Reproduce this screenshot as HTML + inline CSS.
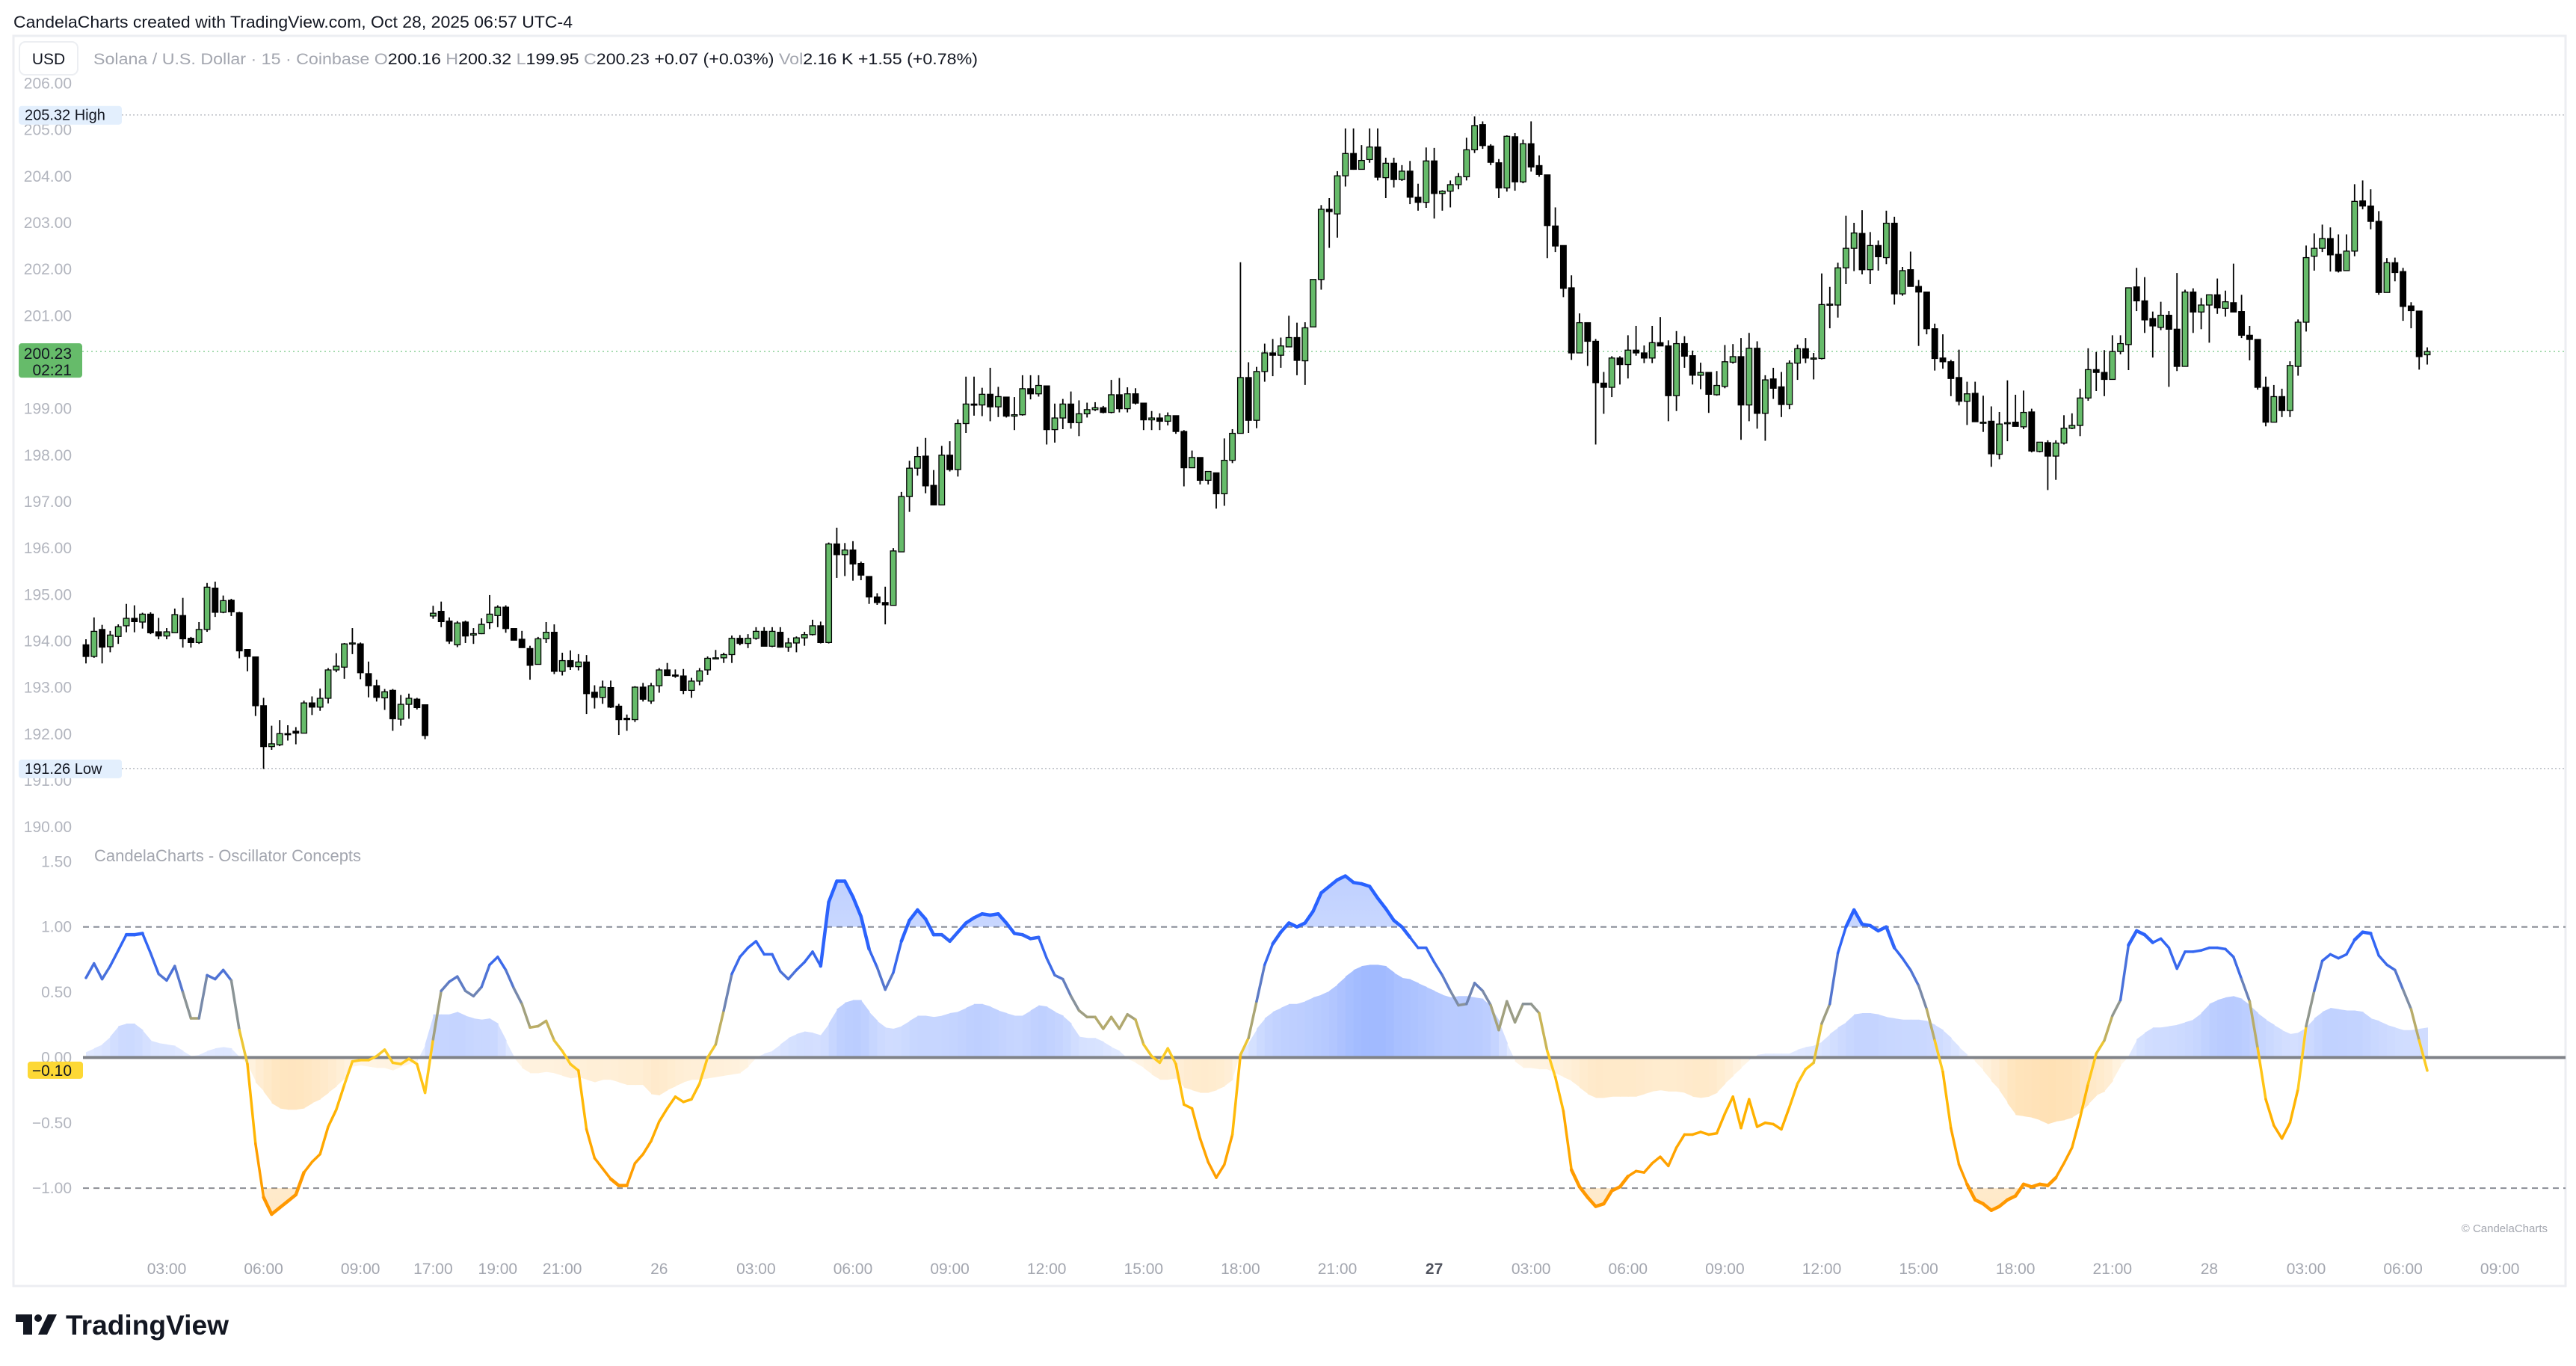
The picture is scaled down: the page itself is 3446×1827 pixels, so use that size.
<!DOCTYPE html>
<html><head><meta charset="utf-8"><title>SOL/USD 15m – Oscillator Concepts</title>
<style>
html,body{margin:0;padding:0;background:#fff;}
svg{display:block;}
text{font-family:"Liberation Sans",sans-serif;}
</style></head>
<body>
<svg id="chart" xmlns="http://www.w3.org/2000/svg" width="3446" height="1827" viewBox="0 0 3446 1827">
<defs>
<linearGradient id="gUp" x1="0" y1="0" x2="0" y2="1"><stop offset="0" stop-color="#2962ff" stop-opacity="0.3"/><stop offset="1" stop-color="#2962ff" stop-opacity="0"/></linearGradient>
<linearGradient id="gDn" x1="0" y1="1" x2="0" y2="0"><stop offset="0" stop-color="#ff9800" stop-opacity="0.22"/><stop offset="1" stop-color="#ff9800" stop-opacity="0"/></linearGradient>
<clipPath id="clipUp"><rect x="100" y="1100" width="3340" height="139.7"/></clipPath>
<clipPath id="clipDn"><rect x="100" y="1589.1" width="3340" height="120"/></clipPath>
</defs>
<rect width="3446" height="1827" fill="#fff"/>
<text x="18" y="37" font-size="22" fill="#131722" textLength="748" lengthAdjust="spacingAndGlyphs">CandelaCharts created with TradingView.com, Oct 28, 2025 06:57 UTC-4</text>
<rect x="18" y="48" width="3414" height="1672" fill="none" stroke="#eceef2" stroke-width="3"/>
<rect x="26" y="56" width="78" height="44" rx="8" fill="#fff" stroke="#eceef2" stroke-width="2"/>
<text x="65" y="86" font-size="21" fill="#131722" text-anchor="middle">USD</text>
<text x="125" y="86" font-size="21" fill="#a3a6af" textLength="1183" lengthAdjust="spacingAndGlyphs">Solana / U.S. Dollar · 15 · Coinbase  O<tspan fill="#131722">200.16</tspan>  H<tspan fill="#131722">200.32</tspan>  L<tspan fill="#131722">199.95</tspan>  C<tspan fill="#131722">200.23  +0.07 (+0.03%)</tspan>  Vol<tspan fill="#131722">2.16 K  +1.55 (+0.78%)</tspan></text>
<text x="126" y="1152" font-size="22" fill="#a3a6af">CandelaCharts - Oscillator Concepts</text>
<g id="priceAxis"></g>
<g id="oscAxis"></g>
<g id="oscArea"></g>
<g id="refLines"></g>
<g id="candles"></g>
<g id="oscLine"></g>
<g id="timeAxis"></g>
<g id="labels"></g>
<text x="3408" y="1648" font-size="15" fill="#a3a6af" text-anchor="end" font-family="Liberation Mono, monospace">© CandelaCharts</text>
<g>
<rect x="21" y="1758" width="22" height="10" fill="#131722"/>
<rect x="31" y="1758" width="12" height="27" fill="#131722"/>
<circle cx="51" cy="1763" r="5" fill="#131722"/>
<polygon points="64,1758 76,1758 63,1785 51,1785" fill="#131722"/>
<text x="88" y="1785" font-size="37" font-weight="bold" fill="#131722" textLength="218" lengthAdjust="spacingAndGlyphs">TradingView</text>
</g>
</svg>
<script>
const opens=[193.92,193.67,194.25,193.88,194.10,194.33,194.49,194.41,194.58,194.20,
194.11,194.18,194.55,194.06,193.97,194.25,195.14,194.62,194.88,194.61,
193.82,193.66,192.61,191.73,191.77,192.01,192.06,192.02,192.67,192.58,
192.77,193.38,193.44,193.96,193.94,193.30,193.04,192.78,192.94,192.32,
192.64,192.75,192.63,194.54,194.64,194.43,193.92,194.41,194.13,194.16,
194.40,194.55,194.73,194.27,194.04,193.84,193.50,194.05,194.19,193.35,
193.58,193.45,193.55,192.90,192.79,193.00,192.60,192.34,192.31,193.01,
192.71,193.04,193.38,193.27,193.25,192.94,193.14,193.38,193.64,193.64,
193.71,194.06,193.95,194.06,194.21,193.89,194.19,193.87,193.96,194.07,
194.14,194.33,193.97,196.09,195.86,195.96,195.67,195.39,194.95,194.83,
194.77,195.92,197.11,197.72,197.98,197.35,196.93,198.00,197.69,198.68,
199.10,199.08,199.31,199.04,199.25,198.84,198.87,199.43,199.32,199.49,
198.55,198.80,199.10,198.70,198.89,198.98,199.02,198.92,199.30,199.00,
199.32,199.12,198.76,198.80,198.73,198.85,198.51,197.73,197.95,197.46,
197.62,197.17,197.89,198.47,199.67,198.75,199.80,200.20,200.15,200.33,
200.53,200.03,200.76,201.78,203.29,203.19,204.01,204.49,204.15,204.36,
204.63,203.97,204.28,203.93,204.11,203.55,203.44,204.33,203.63,203.68,
203.82,203.99,204.57,205.11,204.65,204.29,203.75,204.85,203.88,204.70,
204.23,204.03,202.93,202.51,201.60,200.20,200.85,200.45,199.55,199.46,
200.09,199.95,200.26,200.20,200.09,200.42,200.35,199.28,200.40,200.14,
199.72,199.78,199.30,199.48,200.00,200.12,199.08,200.30,198.90,199.64,
199.47,199.09,199.98,200.29,200.09,200.08,201.25,201.23,202.03,202.45,
202.77,201.99,202.51,202.25,202.99,201.47,201.99,201.63,201.51,200.72,
200.09,200.01,199.67,199.16,199.33,198.71,198.73,198.02,198.70,198.71,
198.61,198.93,198.08,198.27,197.98,198.26,198.58,198.64,199.23,199.84,
199.78,199.63,200.23,200.38,201.62,201.32,200.94,200.75,201.01,200.71,
199.91,201.51,201.08,201.23,201.45,201.16,201.28,201.09,200.58,200.49,
199.46,198.71,199.26,198.96,199.91,200.86,202.28,202.45,202.66,202.32,
201.97,202.39,203.47,203.36,203.03,201.50,202.14,201.95,201.21,201.10,200.16];
const closes=[193.67,194.21,193.87,194.13,194.31,194.49,194.42,194.58,194.18,194.11,
194.20,194.57,194.05,193.97,194.25,195.16,194.62,194.87,194.63,193.79,
193.67,192.61,191.73,191.79,192.01,191.99,192.02,192.67,192.58,192.77,
193.38,193.46,193.94,193.96,193.32,193.04,192.79,192.91,192.33,192.64,
192.77,192.57,191.97,194.60,194.42,194.00,194.39,194.11,194.16,194.36,
194.58,194.73,194.27,194.02,193.86,193.48,194.05,194.19,193.35,193.58,
193.45,193.55,192.87,192.79,193.01,192.58,192.31,192.31,193.01,192.75,
193.04,193.38,193.26,193.26,192.94,193.14,193.36,193.63,193.64,193.71,
194.06,193.95,194.06,194.21,193.89,194.21,193.87,193.96,194.07,194.14,
194.33,193.97,196.09,195.86,195.96,195.66,195.42,194.95,194.83,194.78,
195.94,197.11,197.72,197.97,197.34,196.93,198.00,197.69,198.68,199.10,
199.08,199.31,199.04,199.26,198.84,198.87,199.43,199.32,199.50,198.55,
198.80,199.10,198.70,198.89,198.98,199.02,198.92,199.30,199.00,199.32,
199.12,198.76,198.80,198.73,198.85,198.51,197.73,197.95,197.46,197.65,
197.17,197.89,198.47,199.67,198.75,199.80,200.20,200.15,200.35,200.53,
200.04,200.74,201.78,203.29,203.24,204.01,204.49,204.15,204.34,204.63,
203.98,204.28,203.93,204.11,203.55,203.44,204.33,203.63,203.68,203.82,
203.99,204.57,205.09,204.66,204.30,203.75,204.86,203.88,204.70,204.20,
204.04,202.94,202.50,201.59,200.20,200.85,200.45,199.56,199.46,200.09,
199.95,200.26,200.20,200.09,200.42,200.35,199.28,200.40,200.13,199.72,
199.78,199.31,199.50,200.01,200.12,199.08,200.30,198.90,199.62,199.44,
199.09,199.98,200.29,200.09,200.09,201.24,201.25,202.03,202.45,202.78,
201.99,202.51,202.27,202.99,201.47,201.97,201.63,201.51,200.72,200.08,
200.01,199.65,199.16,199.32,198.72,198.71,198.03,198.67,198.70,198.62,
198.92,198.09,198.28,197.98,198.26,198.58,198.64,199.23,199.84,199.78,
199.63,200.23,200.40,201.60,201.32,200.91,200.78,201.01,200.71,199.91,
201.51,201.08,201.23,201.45,201.17,201.30,201.08,200.58,200.49,199.46,
198.71,199.26,198.96,199.93,200.86,202.25,202.45,202.66,202.31,201.96,
202.39,203.46,203.36,203.03,201.50,202.14,201.93,201.20,201.11,200.12,200.23];
const highs=[194.04,194.51,194.35,194.22,194.36,194.80,194.77,194.61,194.62,194.50,
194.28,194.70,194.93,194.09,194.41,195.25,195.28,194.98,194.91,194.63,
193.82,193.66,192.78,192.18,192.30,192.19,192.15,192.72,192.81,192.98,
193.42,193.74,193.96,194.28,193.97,193.56,193.17,192.97,192.97,192.84,
192.87,192.78,192.63,194.76,194.85,194.51,194.43,194.44,194.28,194.49,
194.99,194.77,194.77,194.27,194.22,193.90,194.09,194.41,194.36,193.75,
193.80,193.72,193.70,193.05,193.15,193.15,192.65,192.42,193.03,193.10,
193.10,193.42,193.53,193.39,193.40,193.21,193.42,193.67,193.81,193.75,
194.12,194.13,194.15,194.30,194.30,194.30,194.30,194.07,194.10,194.20,
194.46,194.42,196.12,196.44,196.11,196.15,195.71,195.39,195.03,195.17,
196.00,197.21,197.88,198.18,198.37,197.68,198.20,198.30,198.77,199.69,
199.69,199.45,199.88,199.47,199.25,199.25,199.72,199.72,199.72,199.49,
199.11,199.21,199.37,199.18,199.13,199.14,199.06,199.62,199.66,199.46,
199.44,199.12,198.95,198.90,198.92,198.85,198.54,198.10,197.95,197.65,
197.62,198.36,198.56,202.15,200.00,199.90,200.40,200.50,200.53,201.00,
200.85,200.86,201.78,203.38,203.53,204.11,205.03,205.03,204.67,205.03,
205.03,204.40,204.40,204.24,204.33,203.84,204.62,204.61,203.70,203.91,
204.07,204.83,205.29,205.18,204.69,204.37,204.88,204.93,204.79,205.18,
204.45,204.03,203.33,202.51,201.87,201.05,200.85,200.50,199.79,200.13,
200.13,200.58,200.78,200.36,200.78,200.97,200.47,200.67,200.56,200.25,
199.99,199.78,199.81,200.37,200.39,200.52,200.63,200.45,199.72,199.88,
199.79,200.04,200.38,200.52,200.20,201.91,201.62,202.14,203.15,203.00,
203.27,202.80,202.62,203.26,203.13,202.05,202.38,201.77,201.51,200.83,
200.60,200.05,200.27,199.58,199.58,199.28,199.05,198.93,199.61,199.30,
199.39,199.00,198.28,198.32,198.32,198.86,198.90,199.43,200.30,200.22,
200.26,200.58,200.58,201.60,202.03,201.83,201.09,201.30,201.10,201.92,
201.56,201.59,201.38,201.45,201.80,201.54,202.12,201.45,200.78,200.49,
199.69,199.51,199.43,200.02,200.92,202.51,202.77,202.96,202.90,202.75,
202.75,203.83,203.91,203.72,203.25,202.24,202.25,202.03,201.29,201.10,200.32];
const lows=[193.52,193.64,193.52,193.76,193.94,194.19,194.19,194.27,194.15,194.04,
194.04,194.18,193.86,193.86,193.94,194.20,194.52,194.60,194.54,193.63,
193.35,192.39,191.25,191.66,191.74,191.86,191.78,192.02,192.41,192.50,
192.66,193.33,193.19,193.72,193.18,192.79,192.70,192.52,192.07,192.18,
192.33,192.53,191.89,194.48,194.30,193.94,193.87,193.96,193.94,194.15,
194.26,194.30,194.18,194.02,193.86,193.17,193.50,193.96,193.29,193.26,
193.38,193.37,192.43,192.55,192.65,192.56,191.98,192.07,192.26,192.70,
192.65,192.89,193.26,193.21,192.86,192.78,193.05,193.27,193.63,193.53,
193.53,193.91,193.85,194.03,193.89,193.87,193.86,193.77,193.76,193.90,
194.12,193.95,193.95,195.36,195.40,195.30,195.31,194.80,194.78,194.36,
194.77,195.92,196.78,197.56,197.18,196.92,196.93,197.65,197.54,198.48,
198.85,198.84,198.73,198.82,198.81,198.54,198.85,199.20,199.26,198.23,
198.27,198.56,198.57,198.41,198.81,198.95,198.90,198.90,198.92,198.92,
199.09,198.54,198.54,198.54,198.64,198.46,197.33,197.73,197.37,197.37,
196.85,196.91,197.83,198.47,198.48,198.58,199.58,199.70,199.88,200.33,
199.72,199.51,200.77,201.56,202.46,202.68,203.78,204.14,204.15,204.29,
203.91,203.53,203.76,203.90,203.40,203.26,203.32,203.09,203.26,203.33,
203.72,203.91,204.50,204.59,204.24,203.53,203.67,203.69,203.85,204.10,
203.99,202.24,202.37,201.40,200.05,200.20,199.92,198.23,198.89,199.25,
199.52,199.65,200.14,199.98,199.98,200.35,198.73,198.95,199.88,199.52,
199.42,198.91,199.28,199.44,199.97,198.33,198.73,198.57,198.31,199.21,
198.82,198.99,199.62,199.98,199.63,200.06,200.73,200.96,201.68,201.96,
201.89,201.68,201.97,202.11,201.24,201.43,201.63,200.35,200.60,199.82,
199.86,199.27,199.07,198.65,198.72,198.50,197.75,197.91,198.30,198.62,
198.56,198.06,198.06,197.25,197.47,198.23,198.56,198.41,199.17,199.38,
199.27,199.63,200.17,199.83,201.10,200.63,200.10,200.69,199.47,199.81,
199.91,200.63,200.71,200.42,201.04,200.98,201.08,200.52,200.04,199.41,
198.62,198.71,198.82,198.82,199.71,200.66,201.97,202.37,201.95,201.93,
201.97,202.28,203.29,202.86,201.45,201.50,201.74,200.89,200.73,199.84,199.95];
const oscValues=[0.61,0.72,0.60,0.70,0.82,0.94,0.94,0.95,0.80,0.64,
0.59,0.70,0.50,0.30,0.30,0.63,0.60,0.67,0.59,0.21,
-0.05,-0.66,-1.07,-1.20,-1.15,-1.10,-1.05,-0.88,-0.80,-0.74,
-0.53,-0.40,-0.21,-0.03,-0.02,-0.02,0.01,0.06,-0.04,-0.05,
-0.01,-0.05,-0.27,0.14,0.51,0.58,0.62,0.51,0.47,0.54,
0.71,0.77,0.67,0.53,0.41,0.23,0.24,0.28,0.13,0.05,
-0.05,-0.10,-0.55,-0.77,-0.85,-0.93,-0.98,-0.98,-0.81,-0.74,
-0.64,-0.49,-0.39,-0.30,-0.34,-0.32,-0.20,0.00,0.10,0.36,
0.64,0.77,0.84,0.89,0.79,0.79,0.66,0.60,0.67,0.73,
0.81,0.70,1.19,1.35,1.35,1.23,1.08,0.83,0.69,0.52,
0.65,0.89,1.05,1.13,1.06,0.94,0.94,0.89,0.96,1.03,
1.07,1.10,1.09,1.10,1.03,0.95,0.94,0.91,0.92,0.76,
0.63,0.60,0.47,0.36,0.31,0.31,0.22,0.31,0.22,0.33,
0.29,0.10,0.01,-0.04,0.07,-0.05,-0.36,-0.39,-0.62,-0.80,
-0.92,-0.82,-0.59,0.02,0.15,0.43,0.71,0.87,0.96,1.03,
1.00,1.03,1.12,1.26,1.31,1.36,1.39,1.34,1.33,1.31,
1.22,1.14,1.05,1.00,0.92,0.84,0.84,0.73,0.63,0.51,
0.40,0.41,0.57,0.51,0.40,0.21,0.43,0.27,0.41,0.41,
0.34,0.05,-0.15,-0.41,-0.86,-0.99,-1.07,-1.14,-1.12,-1.02,
-0.99,-0.91,-0.87,-0.88,-0.81,-0.76,-0.83,-0.69,-0.59,-0.59,
-0.57,-0.59,-0.58,-0.43,-0.30,-0.54,-0.32,-0.53,-0.50,-0.51,
-0.55,-0.38,-0.20,-0.09,-0.04,0.26,0.41,0.80,1.00,1.13,
1.02,1.01,0.97,1.00,0.84,0.76,0.67,0.55,0.37,0.13,
-0.11,-0.54,-0.82,-0.97,-1.09,-1.12,-1.17,-1.14,-1.09,-1.06,
-0.97,-0.99,-0.97,-0.98,-0.92,-0.81,-0.69,-0.46,-0.20,0.03,
0.13,0.32,0.44,0.86,0.97,0.94,0.88,0.91,0.84,0.68,
0.81,0.81,0.82,0.84,0.84,0.83,0.77,0.60,0.43,0.07,
-0.32,-0.52,-0.62,-0.50,-0.24,0.24,0.51,0.74,0.79,0.76,
0.79,0.90,0.96,0.95,0.78,0.71,0.67,0.52,0.37,0.13,-0.10];
const areaValues=[0.04,0.07,0.10,0.16,0.24,0.26,0.26,0.21,0.13,0.11,
0.10,0.09,0.05,0.01,0.02,0.05,0.07,0.08,0.07,0.00,
-0.05,-0.19,-0.26,-0.35,-0.39,-0.40,-0.40,-0.39,-0.35,-0.32,
-0.27,-0.22,-0.16,-0.07,-0.06,-0.07,-0.08,-0.08,-0.10,-0.07,
-0.05,-0.03,0.10,0.33,0.33,0.33,0.35,0.32,0.30,0.29,
0.30,0.26,0.13,0.00,-0.08,-0.12,-0.12,-0.11,-0.12,-0.14,
-0.16,-0.15,-0.17,-0.19,-0.17,-0.17,-0.19,-0.21,-0.21,-0.21,
-0.28,-0.29,-0.25,-0.22,-0.19,-0.17,-0.17,-0.16,-0.15,-0.14,
-0.13,-0.12,-0.07,0.00,0.03,0.05,0.10,0.15,0.18,0.20,
0.19,0.17,0.26,0.37,0.42,0.44,0.44,0.35,0.28,0.23,
0.22,0.24,0.28,0.32,0.32,0.31,0.32,0.34,0.35,0.38,
0.41,0.41,0.39,0.36,0.34,0.32,0.32,0.36,0.40,0.39,
0.35,0.32,0.26,0.16,0.15,0.15,0.12,0.08,0.05,-0.01,
-0.04,-0.08,-0.13,-0.17,-0.17,-0.16,-0.23,-0.25,-0.27,-0.27,
-0.25,-0.22,-0.17,0.05,0.11,0.22,0.30,0.35,0.38,0.41,
0.41,0.43,0.46,0.48,0.51,0.56,0.62,0.67,0.70,0.71,
0.71,0.70,0.65,0.61,0.60,0.57,0.54,0.51,0.48,0.46,
0.47,0.47,0.46,0.45,0.39,0.28,0.11,-0.03,-0.08,-0.08,
-0.09,-0.09,-0.12,-0.15,-0.18,-0.23,-0.28,-0.31,-0.31,-0.30,
-0.30,-0.30,-0.30,-0.28,-0.26,-0.25,-0.26,-0.26,-0.27,-0.30,
-0.31,-0.30,-0.27,-0.20,-0.14,-0.08,-0.02,0.02,0.03,0.03,
0.03,0.03,0.06,0.08,0.09,0.12,0.18,0.23,0.27,0.33,
0.34,0.34,0.33,0.31,0.30,0.29,0.29,0.29,0.28,0.25,
0.21,0.15,0.08,0.02,-0.03,-0.10,-0.18,-0.25,-0.35,-0.44,
-0.45,-0.46,-0.48,-0.51,-0.49,-0.48,-0.46,-0.42,-0.36,-0.29,
-0.26,-0.18,-0.06,0.01,0.14,0.19,0.23,0.23,0.24,0.25,
0.27,0.29,0.34,0.41,0.44,0.46,0.47,0.45,0.40,0.34,
0.29,0.25,0.21,0.18,0.19,0.23,0.30,0.35,0.38,0.37,
0.36,0.36,0.35,0.30,0.28,0.25,0.23,0.21,0.21,0.22,0.23];
const priceTicks=[206,205,204,203,202,201,200,199,198,197,196,195,194,193,192,191,190];
const oscTicks=[1.5,1.0,0.5,0.0,-0.5,-1.0];
const timeLabels=["03:00","06:00","09:00","17:00","19:00","21:00","26","03:00","06:00","09:00","12:00","15:00","18:00","21:00","27","03:00","06:00","09:00","12:00","15:00","18:00","21:00","28","03:00","06:00","09:00"];
const timeBarIndex=[10,22,34,43,51,59,71,83,95,107,119,131,143,155,167,179,191,203,215,227,239,251,263,275,287,299];
const sessionHigh=205.32, sessionLow=191.26, lastPrice=200.23, lastOsc=-0.10;

const NS="http://www.w3.org/2000/svg";
const xOf=i=>115+i*10.8;
const yP=p=>173.6+(205-p)*62.17;
const yO=v=>1414.4-v*174.7;
function mk(tag,attrs,parent){const e=document.createElementNS(NS,tag);for(const k in attrs)e.setAttribute(k,attrs[k]);parent.appendChild(e);return e;}
const fmt=v=>(v<0?"−":"")+Math.abs(v).toFixed(2);

const pa=document.getElementById('priceAxis');
priceTicks.forEach(p=>{const t=mk('text',{x:96,y:yP(p)+7,'font-size':21,fill:'#b2b5be','text-anchor':'end'},pa);t.textContent=p.toFixed(2);

});
const oa=document.getElementById('oscAxis');
oscTicks.forEach(v=>{const t=mk('text',{x:96,y:yO(v)+7,'font-size':21,fill:'#b2b5be','text-anchor':'end'},oa);t.textContent=(v<0?"−":"")+Math.abs(v).toFixed(2);

});

const ar=document.getElementById('oscArea');
function blend(rgb,al){return 'rgb('+rgb.map(c=>Math.round(255-(255-c)*al)).join(',')+')';}
for(let i=0;i<areaValues.length-1;i++){
  const a=areaValues[i],b=areaValues[i+1],m=(a+b)/2;
  const pos=m>=0;
  const rgb=pos?[41,98,255]:[255,152,0];
  const al=pos?(0.12+0.45*Math.abs(m)):(0.08+0.42*Math.abs(m));
  const x0=xOf(i),x1=xOf(i+1)+1;
  const pg=mk('polygon',{points:`${x0},${yO(0)} ${x0},${yO(a)} ${x1},${yO(b)} ${x1},${yO(0)}`,fill:blend(rgb,al)},ar);
  
  
}

const rl=document.getElementById('refLines');
const l1=mk('line',{x1:111,x2:3432,y1:yO(1),y2:yO(1),stroke:'#8a8d96','stroke-width':2,'stroke-dasharray':'8 6'},rl);


const l2=mk('line',{x1:111,x2:3432,y1:yO(-1),y2:yO(-1),stroke:'#8a8d96','stroke-width':2,'stroke-dasharray':'8 6'},rl);


const zl=mk('line',{x1:111,x2:3432,y1:yO(0),y2:yO(0),stroke:'#808389','stroke-width':4},rl);


const hl=mk('line',{x1:163,x2:3432,y1:yP(sessionHigh),y2:yP(sessionHigh),stroke:'#b8bbc2','stroke-width':1.5,'stroke-dasharray':'2 3'},rl);


const ll=mk('line',{x1:163,x2:3432,y1:yP(sessionLow),y2:yP(sessionLow),stroke:'#b8bbc2','stroke-width':1.5,'stroke-dasharray':'2 3'},rl);


const cl=mk('line',{x1:110,x2:3432,y1:yP(lastPrice),y2:yP(lastPrice),stroke:'#8fd19a','stroke-width':1.5,'stroke-dasharray':'2 4'},rl);



const cg=document.getElementById('candles');
for(let i=0;i<closes.length;i++){
  const o=opens[i],c=closes[i],h=highs[i],l=lows[i],x=xOf(i);
  const up=c>=o;
  const g=mk('g',{},cg);
  
  
  mk('line',{x1:x,x2:x,y1:yP(h),y2:yP(l),stroke:'#000','stroke-width':1.8},g);
  const top=yP(Math.max(o,c)),bot=yP(Math.min(o,c));
  mk('rect',{x:x-3.8,y:top,width:7.6,height:Math.max(bot-top,1.5),fill:up?'#66bb6a':'#000',stroke:'#000','stroke-width':1.3},g);
}

const stops=[[-1.0,[255,152,0]],[-0.4,[255,179,0]],[0.0,[255,204,34]],[0.1,[231,196,58]],[0.3,[168,164,120]],[0.5,[110,132,180]],[0.7,[61,106,232]],[1.0,[41,98,255]]];
function colorAt(v){
  if(v<=stops[0][0])return stops[0][1];
  if(v>=stops[stops.length-1][0])return stops[stops.length-1][1];
  for(let k=0;k<stops.length-1;k++){const [a,ca]=stops[k],[b,cb]=stops[k+1];
    if(v>=a&&v<=b){const t=(v-a)/(b-a);return ca.map((q,j)=>Math.round(q+(cb[j]-q)*t));}}
}
const ol=document.getElementById('oscLine');
let pts=oscValues.map((v,i)=>`${xOf(i)},${yO(v)}`);
const upFill=mk('polygon',{points:`${xOf(0)},${yO(1)} ${pts.join(' ')} ${xOf(oscValues.length-1)},${yO(1)}`,fill:'url(#gUp)','clip-path':'url(#clipUp)'},ol);


const dnFill=mk('polygon',{points:`${xOf(0)},${yO(-1)} ${pts.join(' ')} ${xOf(oscValues.length-1)},${yO(-1)}`,fill:'url(#gDn)','clip-path':'url(#clipDn)'},ol);


for(let i=0;i<oscValues.length-1;i++){
  const a=oscValues[i],b=oscValues[i+1];
  const c=colorAt((a+b)/2);
  const w=Math.abs((a+b)/2)>0.9?4.5:3.5;
  const s=mk('line',{x1:xOf(i),y1:yO(a),x2:xOf(i+1),y2:yO(b),stroke:`rgb(${c.join(',')})`,'stroke-width':w,'stroke-linecap':'round'},ol);
  
  
}

const ta=document.getElementById('timeAxis');
timeLabels.forEach((lab,k)=>{const bold=(lab==="27");
  const t=mk('text',{x:xOf(timeBarIndex[k]),y:1704,'font-size':21,fill:bold?'#50535e':'#a3a6af','text-anchor':'middle','font-weight':bold?'bold':'normal'},ta);
  t.textContent=lab;
  
  });

const lb=document.getElementById('labels');
function box(name,x,y,w,h,fill){
  const g=mk('g',{},lb);
  
  
  mk('rect',{x:x,y:y,width:w,height:h,rx:4,fill:fill},g);
  return g;
}
let g=box('session-high-label',25,yP(sessionHigh)-12,138,25,'#e3effd');
let t=mk('text',{x:33,y:yP(sessionHigh)+7,'font-size':20,fill:'#131722'},g);t.textContent=sessionHigh.toFixed(2)+"   High";
g=box('session-low-label',25,yP(sessionLow)-12,138,25,'#e3effd');
t=mk('text',{x:33,y:yP(sessionLow)+7,'font-size':20,fill:'#131722'},g);t.textContent=sessionLow.toFixed(2)+"   Low";
g=box('last-price-label',25,yP(lastPrice)-11,85,46,'#66bb6a');
t=mk('text',{x:96,y:yP(lastPrice)+10,'font-size':21,fill:'#131722','text-anchor':'end'},g);t.textContent=lastPrice.toFixed(2);
t=mk('text',{x:96,y:yP(lastPrice)+32,'font-size':21,fill:'#131722','text-anchor':'end'},g);t.textContent="02:21";
g=box('last-oscillator-label',37,yO(lastOsc)-12,74,23,'#fdd835');
t=mk('text',{x:96,y:yO(lastOsc)+7,'font-size':21,fill:'#131722','text-anchor':'end'},g);t.textContent=fmt(lastOsc);
</script>
</body></html>
